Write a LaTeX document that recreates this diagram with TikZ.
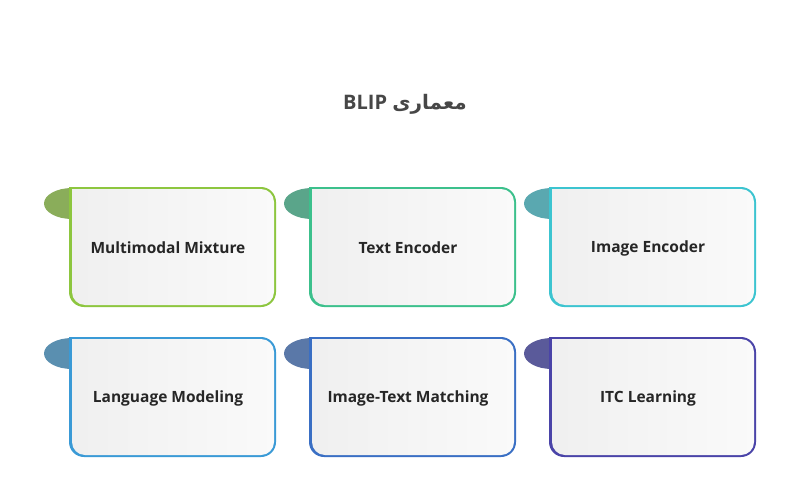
\documentclass[tikz,border=0pt]{standalone}
\usepackage{fontspec}
\setmainfont{Open Sans}
\newfontfamily\arfont[Script=Arabic]{DejaVu Sans}
\begin{document}
\begin{tikzpicture}[x=1pt,y=-1pt,
  lbl/.style={font=\fontsize{15.5}{18}\selectfont\bfseries, text=black!85}]
\useasboundingbox[fill=white] (0,0) rectangle (800,500);
\node[font=\fontsize{20}{24}\selectfont\bfseries, text=black!72] (title) at (405,104) {BLIP {\arfont\bfseries معماری}};
\def\card#1#2#3#4#5#6{%
  \fill[#5] (#1+3,#2+16.5) ellipse (28 and 15.5);
  \fill[#4] (#1,#2) [rounded corners=15]-- (#1+207,#2) -- (#1+207,#2+120) -- (#1,#2+120) [sharp corners]-- cycle;
  \shade[left color=black!6,right color=black!2] (#1+3,#2+2) [rounded corners=13]-- (#1+205,#2+2) -- (#1+205,#2+118) -- (#1+3,#2+118) [sharp corners]-- cycle;
  \node[lbl] (#6) at (#1+99,#2+61) {#3};}
\definecolor{c1}{HTML}{8DC63F}\definecolor{t1}{HTML}{8AAD5A}
\definecolor{c2}{HTML}{3CC08C}\definecolor{t2}{HTML}{5AA58A}
\definecolor{c3}{HTML}{3CC4D0}\definecolor{t3}{HTML}{5AA8B0}
\definecolor{c4}{HTML}{3A9AD6}\definecolor{t4}{HTML}{5A8FB0}
\definecolor{c5}{HTML}{3A6FC4}\definecolor{t5}{HTML}{5A78A8}
\definecolor{c6}{HTML}{4A44A8}\definecolor{t6}{HTML}{5A5A9A}
\card{69}{187}{Multimodal Mixture}{c1}{t1}{a}
\card{309}{187}{Text Encoder}{c2}{t2}{b}
\card{549}{187}{Image Encoder}{c3}{t3}{c}
\card{69}{337}{Language Modeling}{c4}{t4}{d}
\card{309}{337}{Image-Text Matching}{c5}{t5}{e}
\card{549}{337}{ITC Learning}{c6}{t6}{f}
\end{tikzpicture}
\end{document}
